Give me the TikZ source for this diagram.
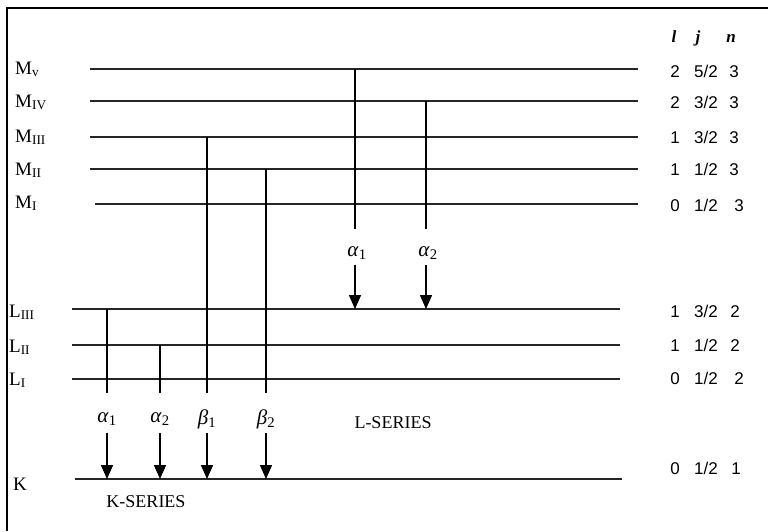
\documentclass[tikz,border=0pt]{standalone}
\usepackage{fontspec}
\setmainfont{Liberation Serif}
\newfontfamily\numfont{Liberation Sans}
\usetikzlibrary{arrows.meta}
\begin{document}
\begin{tikzpicture}[x=1pt,y=-1pt,
  level/.style={line width=2pt, draw=black!85},
  trans/.style={line width=1.5pt},
  emit/.style={line width=1.5pt, -{Triangle[width=12pt,length=14pt]}},
  lvl/.style={font=\fontsize{19}{19}\selectfont, anchor=base west, inner sep=0pt},
  qn/.style={font=\numfont\fontsize{17}{17}\selectfont, anchor=base, inner sep=0pt},
  qhead/.style={font=\bfseries\itshape\fontsize{17}{17}\selectfont, anchor=base, inner sep=0pt},
  greek/.style={font=\fontsize{21}{21}\selectfont, inner sep=0pt},
  series/.style={font=\fontsize{18}{18}\selectfont, inner sep=0pt},
  frame/.style={line width=1.4pt}]
\useasboundingbox (0,0) rectangle (768,531);

% frame (left and top edges)
\coordinate (fb) at (7,531);
\coordinate (fc) at (7,8);
\coordinate (fr) at (768,8);
\draw[frame] (fb) -- (fc) -- (fr);

% energy levels
\foreach \nm/\y/\xa/\xb in {M5/69/90/638, M4/101/90/638, M3/137/90/638, M2/169/90/638, M1/204/95/638,
                            L3/309/72/620, L2/345/72/620, L1/379/72/620, K/479/75/622}{
  \coordinate (\nm w) at (\xa,\y);
  \coordinate (\nm e) at (\xb,\y);
  \draw[level] (\nm w) -- (\nm e);
}

% level names
\node[lvl] (nM5) at (15,74) {M\textsubscript{v}};
\node[lvl] (nM4) at (15,107) {M\textsubscript{IV}};
\node[lvl] (nM3) at (15,142) {M\textsubscript{III}};
\node[lvl] (nM2) at (15,175) {M\textsubscript{II}};
\node[lvl] (nM1) at (15,208) {M\textsubscript{I}};
\node[lvl] (nL3) at (9,317) {L\textsubscript{III}};
\node[lvl] (nL2) at (9,352) {L\textsubscript{II}};
\node[lvl] (nL1) at (9,385) {L\textsubscript{I}};
\node[lvl] (nK) at (13,490) {K};

% quantum numbers l, j, n
\node[qhead] (hl) at (674,42) {l};
\node[qhead] (hj) at (698,42) {j};
\node[qhead] (hn) at (731,42) {n};
\foreach \nm/\y/\l/\j/\n/\xn in {q1/77/2/5\slash2/3/734, q2/108/2/3\slash2/3/734, q3/143/1/3\slash2/3/734,
                                 q4/175/1/1\slash2/3/734, q5/211/0/1\slash2/3/739,
                                 q6/317/1/3\slash2/2/735, q7/351/1/1\slash2/2/735, q8/384/0/1\slash2/2/739,
                                 q9/474/0/1\slash2/1/736}{
  \node[qn] (\nm l) at (675,\y) {\l};
  \node[qn] (\nm j) at (706,\y) {\j};
  \node[qn] (\nm n) at (\xn,\y) {\n};
}

% K-series transitions
\foreach \nm/\x/\ytop/\lab/\sub in {ka1/107/309/α/1, ka2/160/345/α/2, kb1/207/137/β/1, kb2/266/169/β/2}{
  \coordinate (\nm top) at (\x,\ytop);
  \coordinate (\nm mid) at (\x,393);
  \node[greek] (\nm lab) at (\x,419) {\textit{\lab}\textsubscript{\sub}};
  \coordinate (\nm from) at (\x,433);
  \coordinate (\nm to) at (\x,479);
  \draw[trans] (\nm top) -- (\nm mid);
  \draw[emit] (\nm from) -- (\nm to);
}

% L-series transitions
\foreach \nm/\x/\ytop/\sub in {la1/355/69/1, la2/426/101/2}{
  \coordinate (\nm top) at (\x,\ytop);
  \coordinate (\nm mid) at (\x,229);
  \node[greek] (\nm lab) at (\x+2,253) {\textit{α}\textsubscript{\sub}};
  \coordinate (\nm from) at (\x,265);
  \coordinate (\nm to) at (\x,309);
  \draw[trans] (\nm top) -- (\nm mid);
  \draw[emit] (\nm from) -- (\nm to);
}

% series names
\node[series] (lser) at (393,423) {L-SERIES};
\node[series] (kser) at (146,502) {K-SERIES};
\end{tikzpicture}
\end{document}
